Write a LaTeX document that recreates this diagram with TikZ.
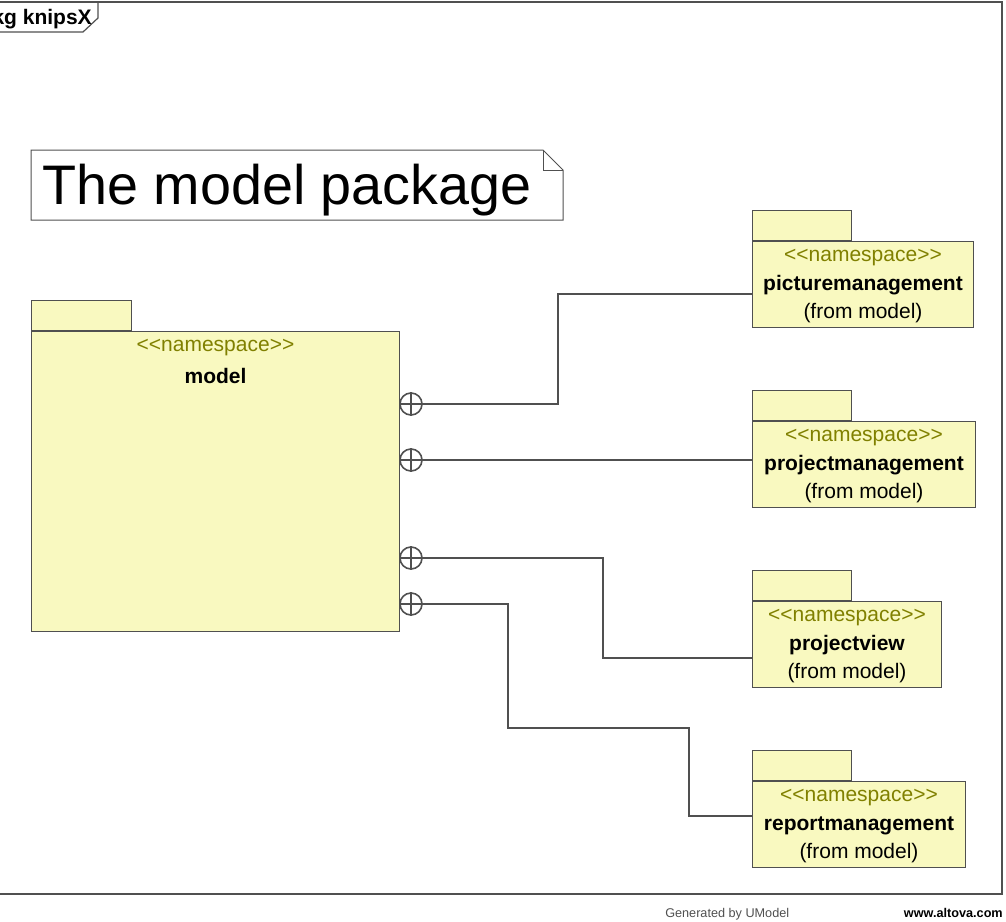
\documentclass[tikz,border=0pt]{standalone}
\usepackage{fontspec}
\setmainfont{Liberation Sans}
\usetikzlibrary{positioning}
\definecolor{pkgfill}{RGB}{249,249,192}
\definecolor{pkgline}{RGB}{80,80,80}
\definecolor{stereocol}{RGB}{128,128,0}
\newcommand{\nsstereo}{\textcolor{stereocol}{<\kern0pt<namespace>\kern0pt>}}
\newcommand{\umlsize}{\fontsize{15.75}{19}\selectfont}

\begin{document}
\begin{tikzpicture}[x=0.75pt,y=0.75pt,yscale=-1,
  pkgtab/.style={draw=pkgline,fill=pkgfill,line width=0.75pt,anchor=north west,inner sep=0pt,minimum width=74.25pt,minimum height=22.5pt},
  pkgbody/.style={draw=pkgline,fill=pkgfill,line width=0.75pt,anchor=north west,inner sep=0pt,minimum height=64.5pt},
  pkgtext/.style={anchor=base,inner sep=0pt,font=\umlsize},
  plus/.style={circle,draw=pkgline,fill=white,line width=1.2pt,minimum size=16.5pt,inner sep=0pt},
  link/.style={draw=pkgline,line width=1.2pt}]
\useasboundingbox (0,0) rectangle (1006,921);
\clip (0,0) rectangle (1006,921);

%Shape: Frame
\draw [pkgline,line width=1.2pt] (-50,2) -- (1002,2) -- (1002,894) -- (-50,894) ;
\draw [pkgline,line width=0.9pt] (-50,32) -- (83,32) -- (98,18) -- (98,2) ;
% Text Node
\node [anchor=base east,inner sep=0pt,font=\umlsize\bfseries] (frameName) at (92,24) {pkg knipsX};

%Shape: Note
\draw [pkgline,line width=0.75pt] (31,150) -- (543,150) -- (563,170) -- (563,220) -- (31,220) -- cycle ;
\draw [pkgline,line width=0.75pt] (543,150) -- (543,170) -- (563,170) ;
% Text Node
\node [anchor=base west,inner sep=0pt,font=\fontsize{41.8}{48}\selectfont] (noteText) at (42,204) {The model package};

%Package: model
\node [pkgtab,minimum width=75pt] (modelTab) at (31,300) {};
\node [pkgbody,minimum width=276pt,minimum height=225pt] (model) at (modelTab.south west) {};
\node [pkgtext] (modelStereo) at ([yshift=15pt]model.north) {\nsstereo};
\node [pkgtext,font=\umlsize\bfseries] (modelName) at ([yshift=39pt]model.north) {model};

%Package: picturemanagement
\node [pkgtab] (pmTab) at (752,210) {};
\node [pkgbody,minimum width=165.75pt] (pm) at (pmTab.south west) {};
\node [pkgtext] (pmStereo) at ([yshift=15pt]pm.north) {\nsstereo};
\node [pkgtext,font=\umlsize\bfseries] (pmName) at ([yshift=37pt]pm.north) {picturemanagement};
\node [pkgtext] (pmFrom) at ([yshift=58pt]pm.north) {(from model)};

%Package: projectmanagement
\node [pkgtab] (prmTab) at (752,390) {};
\node [pkgbody,minimum width=167.25pt] (prm) at (prmTab.south west) {};
\node [pkgtext] (prmStereo) at ([yshift=15pt]prm.north) {\nsstereo};
\node [pkgtext,font=\umlsize\bfseries] (prmName) at ([yshift=37pt]prm.north) {projectmanagement};
\node [pkgtext] (prmFrom) at ([yshift=58pt]prm.north) {(from model)};

%Package: projectview
\node [pkgtab] (pvTab) at (752,570) {};
\node [pkgbody,minimum width=141.75pt] (pv) at (pvTab.south west) {};
\node [pkgtext] (pvStereo) at ([yshift=15pt]pv.north) {\nsstereo};
\node [pkgtext,font=\umlsize\bfseries] (pvName) at ([yshift=37pt]pv.north) {projectview};
\node [pkgtext] (pvFrom) at ([yshift=58pt]pv.north) {(from model)};

%Package: reportmanagement
\node [pkgtab] (rmTab) at (752,750) {};
\node [pkgbody,minimum width=159.75pt] (rm) at (rmTab.south west) {};
\node [pkgtext] (rmStereo) at ([yshift=15pt]rm.north) {\nsstereo};
\node [pkgtext,font=\umlsize\bfseries] (rmName) at ([yshift=37pt]rm.north) {reportmanagement};
\node [pkgtext] (rmFrom) at ([yshift=58pt]rm.north) {(from model)};

%Containment connectors
\coordinate (pmIn) at (pm.west |- 0,294);
\coordinate (prmIn) at (prm.west |- 0,460);
\coordinate (pvIn) at (pv.west |- 0,658);
\coordinate (rmIn) at (rm.west |- 0,816);
\coordinate (rmBend) at (689,728);

\node [plus] (c1) at (411,404) {};
\node [plus] (c2) at (411,460) {};
\node [plus] (c3) at (411,558) {};
\node [plus] (c4) at (411,604) {};
\draw [link] (c1.north) -- (c1.south) (c1.west) -- (c1.east);
\draw [link] (c2.north) -- (c2.south) (c2.west) -- (c2.east);
\draw [link] (c3.north) -- (c3.south) (c3.west) -- (c3.east);
\draw [link] (c4.north) -- (c4.south) (c4.west) -- (c4.east);

\draw [link] (c1.east) -- ++(135,0) |- (pmIn);
\draw [link] (c2.east) -- (prmIn);
\draw [link] (c3.east) -- ++(180,0) |- (pvIn);
\draw [link] (c4.east) -- ++(85,0) |- (rmBend) |- (rmIn);

% Text Node
\node [anchor=base west,inner sep=0pt,font=\fontsize{9.5}{11}\selectfont,text=pkgline] (genBy) at (665,917) {Generated by UModel};
\node [anchor=base east,inner sep=0pt,font=\fontsize{9.5}{11}\selectfont\bfseries] (altova) at (1003,917) {www.altova.com};

\end{tikzpicture}
\end{document}
